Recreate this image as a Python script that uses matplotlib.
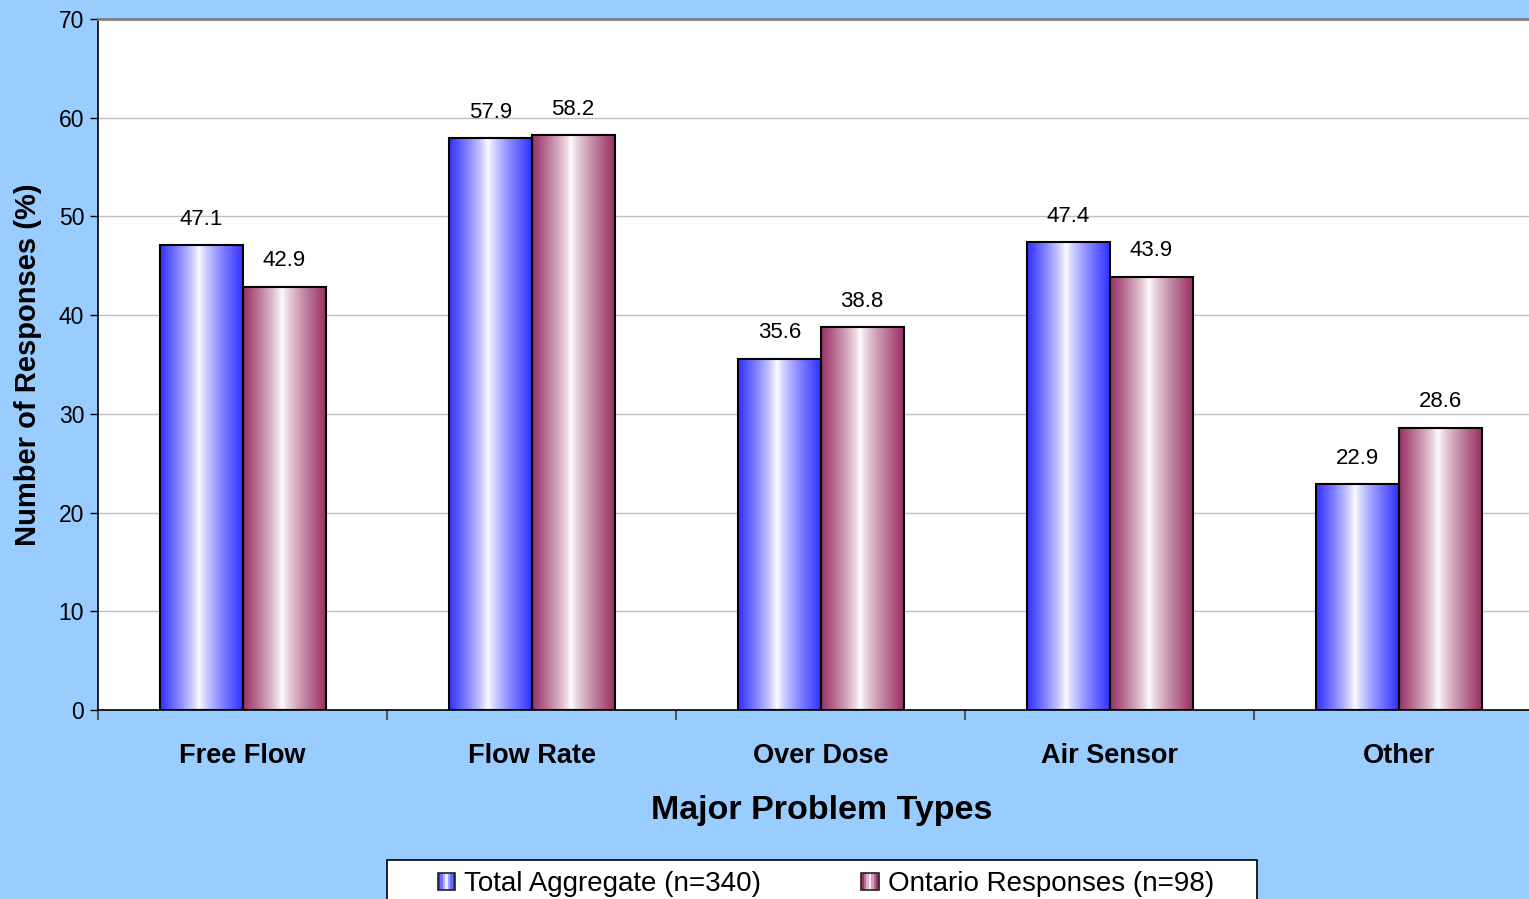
import numpy as np
import matplotlib
matplotlib.use("Agg")
import matplotlib.pyplot as plt
from matplotlib.legend_handler import HandlerBase
from matplotlib.patches import Rectangle

categories = ["Free Flow", "Flow Rate", "Over Dose", "Air Sensor", "Other"]
total_aggregate = [47.1, 57.9, 35.6, 47.4, 22.9]
ontario = [42.9, 58.2, 38.8, 43.9, 28.6]
series_names = ["Total Aggregate (n=340)", "Ontario Responses (n=98)"]
y_ticks = [0, 10, 20, 30, 40, 50, 60, 70]

BG = "#99ccff"
BLUE = np.array([0.2, 0.2, 1.0])
PLUM = np.array([0.6, 0.2, 0.4])

plt.rcParams["font.family"] = ["Liberation Sans", "DejaVu Sans"]

W, H = 1529, 899


def gradient_strip(color, n=64, white_at=0.47):
    # edge colour -> white -> edge colour, across the bar width
    t = np.linspace(0, 1, n)
    d = np.where(t < white_at, (white_at - t) / white_at, (t - white_at) / (1 - white_at))
    d = d ** 0.8
    rgb = 1 - d[:, None] * (1 - color[None, :])
    return rgb[None, :, :]


class GradientHandler(HandlerBase):
    def __init__(self, color):
        super().__init__()
        self.color = color

    def create_artists(self, legend, orig_handle, xdescent, ydescent,
                       width, height, fontsize, trans):
        side = width
        x0 = -xdescent
        y0 = -ydescent + (height - side) / 2
        strip = gradient_strip(self.color, n=7)[0]
        arts = []
        for i, c in enumerate(strip):
            arts.append(Rectangle((x0 + i * side / len(strip), y0), side / len(strip), side,
                                  facecolor=c, edgecolor="none", transform=trans))
        arts.append(Rectangle((x0, y0), side, side, facecolor="none",
                              edgecolor="#222222", linewidth=1.2, transform=trans))
        return arts


fig = plt.figure(figsize=(W / 100, H / 100), dpi=100)
fig.patch.set_facecolor(BG)
ax = fig.add_axes([98 / W, 189 / H, 1 - 98 / W, 691 / H])
ax.set_facecolor("white")

x = np.arange(len(categories))
width = 0.287
for vals, color, shift in [(total_aggregate, BLUE, -width / 2), (ontario, PLUM, width / 2)]:
    bars = ax.bar(x + shift, vals, width, facecolor="none", edgecolor="black",
                  linewidth=1.5, zorder=3)
    for b, v in zip(bars, vals):
        x0 = b.get_x()
        ax.imshow(gradient_strip(color), extent=[x0, x0 + width, 0, v],
                  aspect="auto", interpolation="bilinear", zorder=2)
        ax.annotate(f"{v:.1f}", (b.get_x() + width / 2, v), xytext=(0, 18.5),
                    textcoords="offset points", ha="center", va="center",
                    fontsize=16)

ax.set_yticks(y_ticks)
ax.tick_params(axis="y", length=6, width=1, labelsize=16.5, pad=4)
ax.yaxis.grid(True, color="#c0c0c0", linewidth=1)
ax.set_axisbelow(True)

# group separators as major ticks, category names on minor ticks
ax.set_xticks(np.arange(-0.5, 5.0, 1.0))
ax.set_xticklabels([])
ax.tick_params(axis="x", which="major", length=7, width=1.5, color="#555555")
ax.set_xticks(x, minor=True)
ax.set_xticklabels(categories, minor=True, fontsize=19.5, fontweight="bold")
ax.tick_params(axis="x", which="minor", length=0, pad=24)

ax.set_xlim(-0.5, 4.45)
ax.set_ylim(0, 70)

for s in ["left", "bottom"]:
    ax.spines[s].set_color("black")
    ax.spines[s].set_linewidth(1.2)
ax.spines["top"].set_color("#808080")
ax.spines["top"].set_linewidth(2)
ax.spines["right"].set_visible(False)

ax.set_xlabel("Major Problem Types", fontsize=24.5, fontweight="bold", va="center")
ax.xaxis.set_label_coords(0.506, -100 / 691)
ax.set_ylabel("Number of Responses (%)", fontsize=21, fontweight="bold", va="center")
ax.yaxis.set_label_coords(-70 / 1431, 0.5)

# legend box runs off the bottom edge
fig.patches.append(Rectangle((387 / W, -0.05), 870 / W, 0.05 + (H - 860) / H,
                             transform=fig.transFigure, facecolor="white",
                             edgecolor="black", linewidth=1.2, zorder=4))

h1 = Rectangle((0, 0), 1, 1)
h2 = Rectangle((0, 0), 1, 1)
leg = fig.legend([h1, h2], series_names, ncol=2, loc="center",
                 bbox_to_anchor=(826 / W, 1 - 884 / H),
                 fontsize=20, frameon=False,
                 handler_map={h1: GradientHandler(BLUE), h2: GradientHandler(PLUM)},
                 handlelength=0.62, handletextpad=0.33, columnspacing=3.6,
                 borderpad=0, borderaxespad=0)
leg.set_zorder(5)

fig.savefig("out.png", dpi=100, facecolor=BG)
